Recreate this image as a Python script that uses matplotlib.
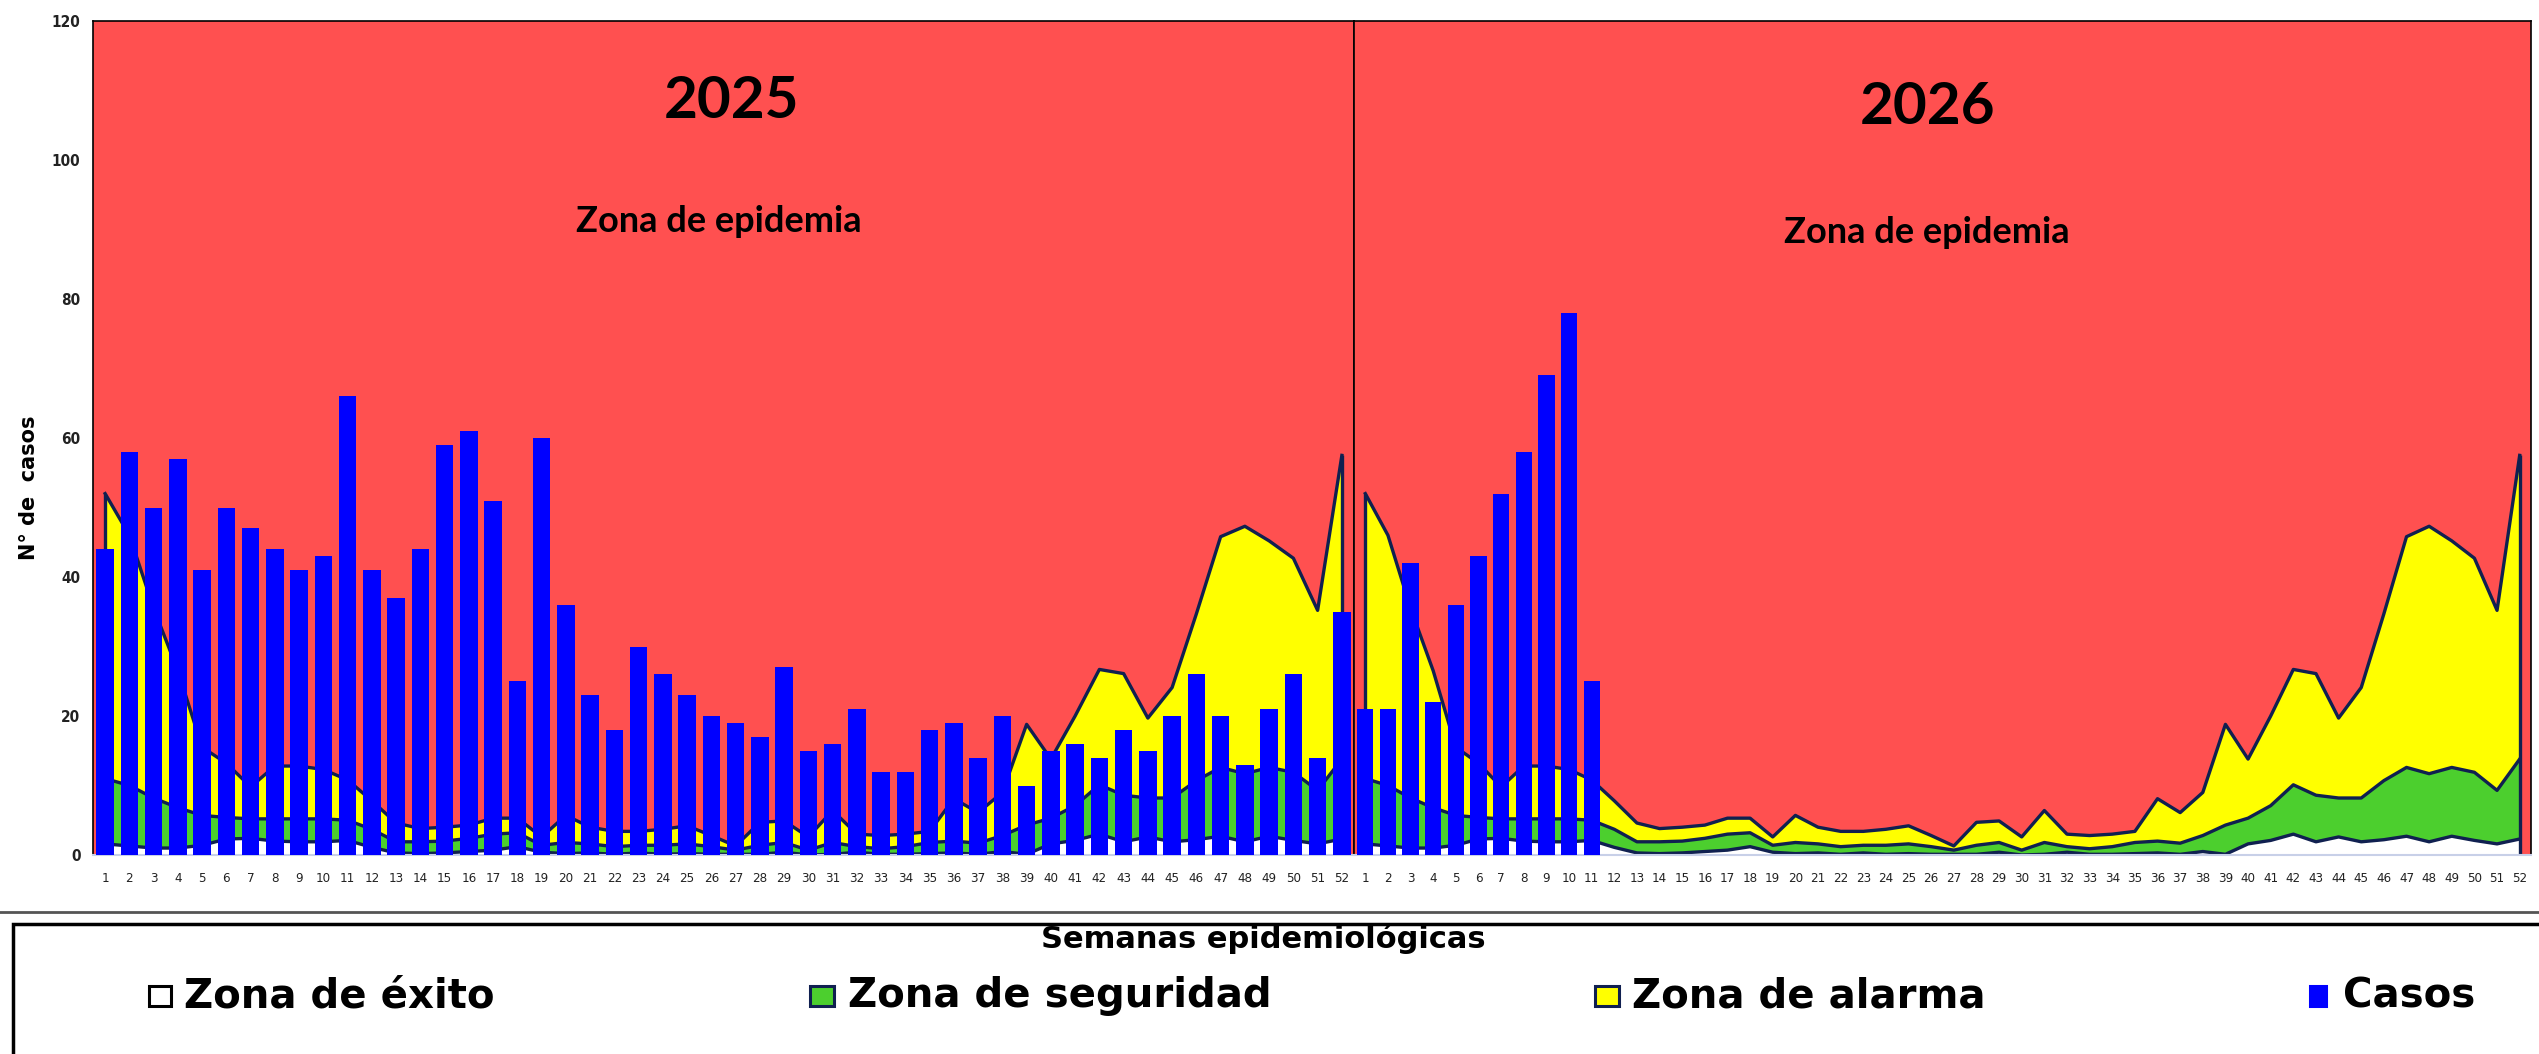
"""
Canal endemico 2025-2026: zonas de exito, seguridad, alarma y epidemia
con los casos semanales como barras.
"""
import matplotlib
matplotlib.use("Agg")
import matplotlib.pyplot as plt
from matplotlib.patches import Rectangle
from matplotlib.lines import Line2D

# semanas epidemiologicas (1..52 para cada anio)
semanas = list(range(1, 53))

# limites superiores de cada zona del canal endemico (mismo canal para ambos anios)
zona_exito = [1.6, 1.3, 1.0, 1.0, 1.4, 2.3, 2.4, 2.0, 1.9, 1.9, 2.1, 1.1, 0.3,
              0.2, 0.3, 0.5, 0.7, 1.2, 0.4, 0.2, 0.3, 0.1, 0.3, 0.1, 0.2, 0.1,
              0.1, 0.1, 0.4, 0.0, 0.1, 0.4, 0.1, 0.1, 0.2, 0.3, 0.1, 0.5, 0.1,
              1.6, 2.1, 3.0, 1.9, 2.6, 1.9, 2.2, 2.7, 1.9, 2.7, 2.1, 1.6, 2.3]
zona_seguridad = [11.0, 10.0, 8.2, 6.8, 5.7, 5.4, 5.2, 5.2, 5.2, 5.2, 5.0, 3.7,
                  1.9, 1.9, 2.0, 2.4, 3.0, 3.2, 1.4, 1.8, 1.6, 1.2, 1.4, 1.4,
                  1.6, 1.2, 0.7, 1.4, 1.8, 0.7, 1.8, 1.2, 0.9, 1.2, 1.8, 2.0,
                  1.7, 2.8, 4.3, 5.3, 7.1, 10.1, 8.6, 8.2, 8.2, 10.7, 12.6,
                  11.7, 12.6, 11.9, 9.3, 13.8]
zona_alarma = [52.0, 46.0, 35.5, 26.5, 15.5, 13.2, 9.8, 12.8, 12.8, 12.3, 10.8,
               7.8, 4.6, 3.8, 4.0, 4.3, 5.3, 5.3, 2.6, 5.7, 4.0, 3.4, 3.4, 3.7,
               4.2, 2.8, 1.3, 4.7, 4.9, 2.6, 6.4, 3.0, 2.8, 3.0, 3.4, 8.1, 6.1,
               9.0, 18.8, 13.8, 20.0, 26.7, 26.1, 19.7, 24.1, 34.7, 45.8, 47.3,
               45.2, 42.7, 35.2, 57.5]

# casos notificados por semana
casos_2025 = [44, 58, 50, 57, 41, 50, 47, 44, 41, 43, 66, 41, 37, 44, 59, 61,
              51, 25, 60, 36, 23, 18, 30, 26, 23, 20, 19, 17, 27, 15, 16, 21,
              12, 12, 18, 19, 14, 20, 10, 15, 16, 14, 18, 15, 20, 26, 20, 13,
              21, 26, 14, 35]
casos_2026 = [21, 21, 42, 22, 36, 43, 52, 58, 69, 78, 25]

anios = ["2025", "2026"]
titulo_zona = "Zona de epidemia"
etiquetas_leyenda = ["Zona de éxito", "Zona de seguridad", "Zona de alarma", "Casos"]
y_ticks = [0, 20, 40, 60, 80, 100, 120]

ROJO = "#ff5050"
VERDE = "#4ccf2e"
AMARILLO = "#ffff00"
AZUL = "#0000ff"
NAVY = "#102050"
NARROW = ["Liberation Sans Narrow", "DejaVu Sans"]

W, H = 2539, 1054
fig = plt.figure(figsize=(W / 100, H / 100), dpi=100)


def fx(px):
    return px / W


def fy(py):
    return 1 - py / H


def draw_year(ax, casos, anio, pos_anio, pos_zona):
    x = semanas
    ax.set_facecolor(ROJO)
    ax.fill_between(x, 0, zona_exito, color="white", lw=0, zorder=1)
    ax.fill_between(x, zona_exito, zona_seguridad, color=VERDE, lw=0, zorder=1)
    ax.fill_between(x, zona_seguridad, zona_alarma, color=AMARILLO, lw=0, zorder=1)
    for curva in (zona_exito, zona_seguridad, zona_alarma):
        ax.plot(x, curva, color=NAVY, lw=2.4, zorder=2)
    ax.vlines([x[0], x[-1]], 0, [zona_alarma[0], zona_alarma[-1]],
              color=NAVY, lw=2.4, zorder=2)

    ax.bar(x[:len(casos)], casos, width=0.72, color=AZUL, lw=0, zorder=3)

    ax.set_xlim(0.5, 52.5)
    ax.set_ylim(0, 120)
    ax.set_xticks(x)
    ax.set_xticklabels([str(s) for s in x], fontsize=9.5, family=NARROW,
                       fontstretch="condensed", color="#222222")
    ax.tick_params(axis="x", length=0, pad=12)
    ax.tick_params(axis="y", length=0, pad=9)

    for side in ("top", "left", "right"):
        ax.spines[side].set_color("black")
        ax.spines[side].set_linewidth(1.2)
    ax.spines["bottom"].set_color("#c8d0e8")
    ax.spines["bottom"].set_linewidth(1.5)

    ax.text(pos_anio[0], pos_anio[1], anio, transform=ax.transAxes,
            ha="center", va="center", fontsize=42, fontweight="bold",
            family=["Lato", "DejaVu Sans"], zorder=5)
    ax.text(pos_zona[0], pos_zona[1], titulo_zona, transform=ax.transAxes,
            ha="center", va="center", fontsize=26, fontweight="bold",
            family=["Lato", "DejaVu Sans"], zorder=5)


ax1 = fig.add_axes([fx(93), fy(855), fx(1354) - fx(93), fy(21) - fy(855)])
ax2 = fig.add_axes([fx(1354), fy(855), fx(2531) - fx(1354), fy(21) - fy(855)],
                   sharey=ax1)

draw_year(ax1, casos_2025, anios[0], (0.506, 0.903), (0.496, 0.759))
draw_year(ax2, casos_2026, anios[1], (0.487, 0.896), (0.487, 0.747))

ax1.set_yticks(y_ticks)
ax1.set_yticklabels([str(v) for v in y_ticks], fontsize=11,
                    fontweight="bold", family=NARROW, fontstretch="condensed",
                    color="#222222")
ax2.tick_params(labelleft=False)

fig.text(fx(29), fy(488), "N° de  casos", rotation=90, ha="center",
         va="center", fontsize=15, fontweight="bold")

# separador y recuadro de la leyenda
fig.add_artist(Line2D([0, 1], [fy(912), fy(912)], color="#555555", lw=2,
                      transform=fig.transFigure))
fig.add_artist(Rectangle((fx(13), -0.05), 1.0, fy(924) + 0.05,
                         transform=fig.transFigure, fill=False,
                         edgecolor="black", lw=2.5))

fig.text(fx(1263), fy(939), "Semanas epidemiológicas", ha="center",
         va="center", fontsize=22, fontweight="bold")

# leyenda manual
leg_y = 996
marcadores = [("white", "black", 22), (VERDE, NAVY, 24), (AMARILLO, NAVY, 24),
              (AZUL, AZUL, 16)]
x_marcador = [149, 810, 1595, 2310]
x_texto = [184, 848, 1632, 2343]
for (fc, ec, ancho), xm, xt, lab in zip(marcadores, x_marcador, x_texto,
                                        etiquetas_leyenda):
    fig.add_artist(Rectangle((fx(xm), fy(leg_y + 10)), ancho / W, 20 / H,
                             transform=fig.transFigure, facecolor=fc,
                             edgecolor=ec, lw=2.2))
    fig.text(fx(xt), fy(leg_y), lab, ha="left", va="center", fontsize=29,
             fontweight="bold")

fig.savefig("out.png", dpi=100)
